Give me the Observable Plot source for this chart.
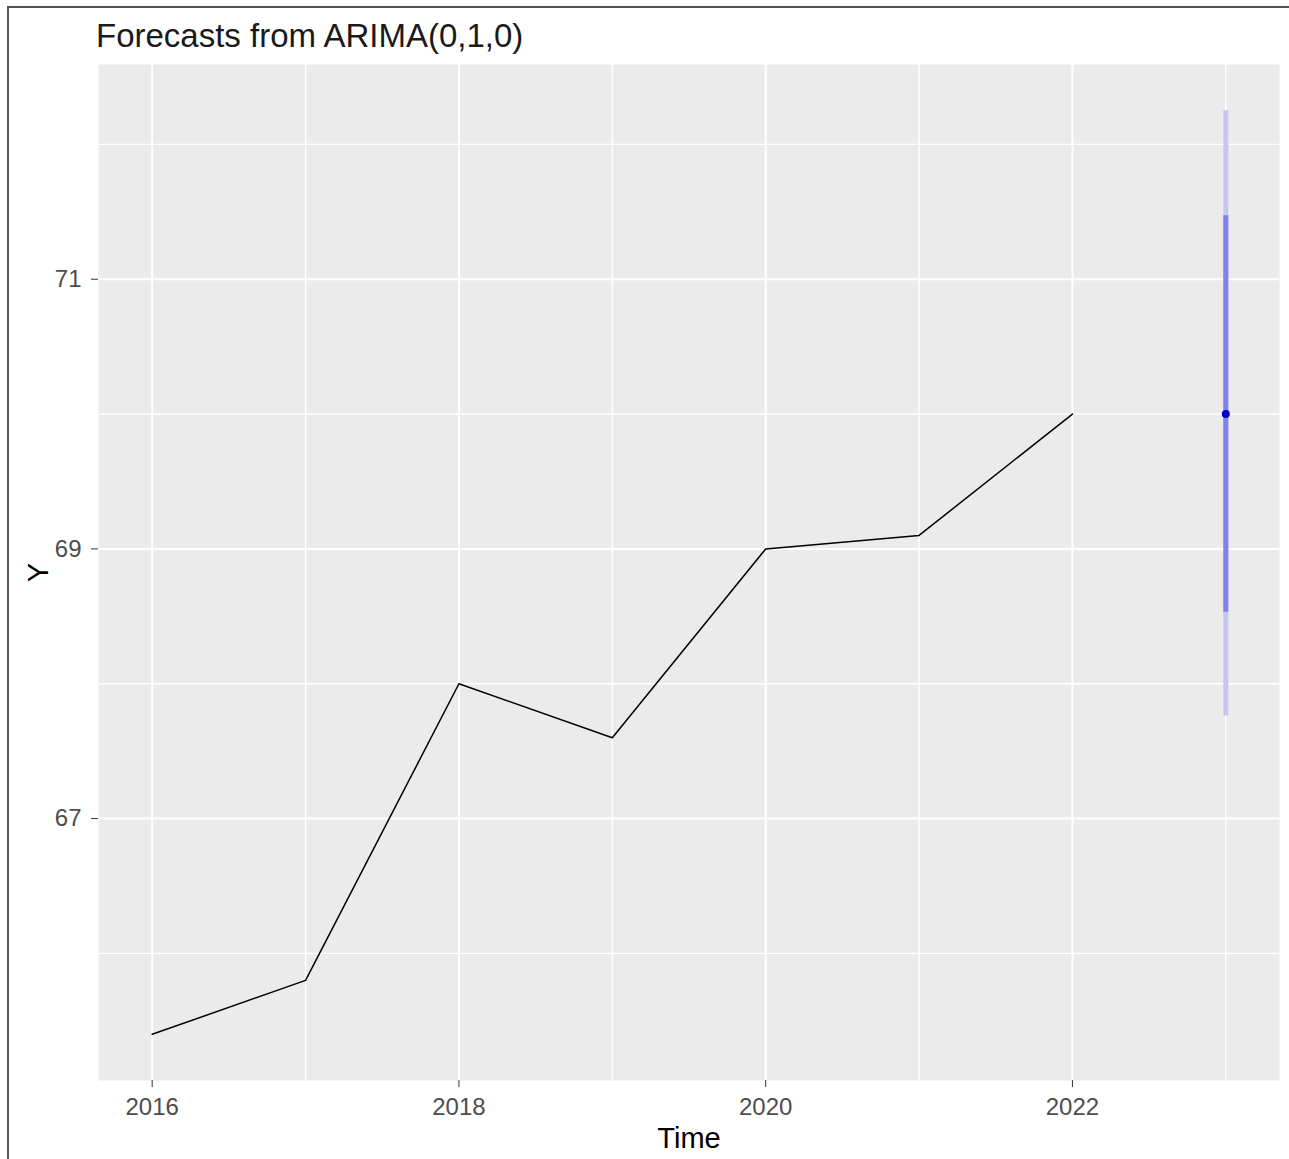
<!DOCTYPE html>
<html>
<head>
<meta charset="utf-8">
<script src="https://cdn.jsdelivr.net/npm/d3@7"></script>
<script src="https://cdn.jsdelivr.net/npm/@observablehq/plot@0.6"></script>
<style>
  html, body { margin: 0; padding: 0; background: #ffffff; }
  #wrap { position: relative; width: 1289px; height: 1159px; overflow: hidden; font-family: "Liberation Sans", Arial, sans-serif; }
  #title { position: absolute; left: 96px; top: 20px; font-size: 33px; line-height: 32px; color: #1a1a1a; white-space: nowrap; }
  #chart { position: absolute; left: 0; top: 60px; }
  .bt { position: absolute; left: 7px; top: 6px; width: 1282px; height: 2px; background: #555; }
  .bl { position: absolute; left: 7px; top: 6px; width: 2px; height: 1153px; background: #555; }
</style>
</head>
<body>
<div id="wrap">
  <div class="bt"></div>
  <div class="bl"></div>
  <div id="title">Forecasts from ARIMA(0,1,0)</div>
  <div id="chart"></div>
</div>
<script>
// Observed series
const years = [2016, 2017, 2018, 2019, 2020, 2021, 2022];
const values = [65.40, 65.80, 68.00, 67.60, 69.00, 69.10, 70.00];

// Forecast
const fcYears = [2023];
const fcMean = [70.00];
const fcLo80 = [68.53];
const fcHi80 = [71.47];
const fcLo95 = [67.76];
const fcHi95 = [72.25];

// Ticks / grid
const xMajor = [2016, 2018, 2020, 2022];
const xMinor = [2017, 2019, 2021, 2023];
const yMajor = [67, 69, 71];
const yMinor = [66, 68, 70, 72];

const series = years.map((t, i) => ({t, y: values[i]}));
const fc = fcYears.map((t, i) => ({t, mean: fcMean[i], lo80: fcLo80[i], hi80: fcHi80[i], lo95: fcLo95[i], hi95: fcHi95[i]}));

// ggplot-style 5% expansion
const allX = years.concat(fcYears);
const allY = values.concat(fcMean, fcLo95, fcHi95);
const xMin = d3.min(allX), xMax = d3.max(allX), xPad = 0.05 * (xMax - xMin);
const yMin = d3.min(allY), yMax = d3.max(allY), yPad = 0.05 * (yMax - yMin);

const font = "Liberation Sans, Arial, sans-serif";

const chart = Plot.plot({
  width: 1289,
  height: 1099,
  marginTop: 4,
  marginBottom: 79,
  marginLeft: 98,
  marginRight: 10,
  style: { fontFamily: font, color: "#333333", background: "transparent" },
  x: { domain: [xMin - xPad, xMax + xPad] },
  y: { domain: [yMin - yPad, yMax + yPad] },
  marks: [
    Plot.frame({ fill: "#EBEBEB", stroke: null }),
    Plot.gridX(xMinor, { stroke: "#ffffff", strokeOpacity: 1, strokeWidth: 1.4 }),
    Plot.gridY(yMinor, { stroke: "#ffffff", strokeOpacity: 1, strokeWidth: 1.4 }),
    Plot.gridX(xMajor, { stroke: "#ffffff", strokeOpacity: 1, strokeWidth: 2 }),
    Plot.gridY(yMajor, { stroke: "#ffffff", strokeOpacity: 1, strokeWidth: 2 }),
    Plot.axisX({ ticks: xMajor, tickSize: 7, tickPadding: 10, fontSize: 24, fill: "#4d4d4d", tickFormat: d3.format("d"), label: null }),
    Plot.axisX({ ticks: [], tickSize: 0, label: "Time", labelAnchor: "center", labelOffset: 67, labelArrow: "none", fontSize: 29, fill: "#000000" }),
    Plot.axisY({ ticks: yMajor, tickSize: 7, tickPadding: 10, fontSize: 24, fill: "#4d4d4d", tickFormat: d3.format("d"), label: null }),
    Plot.axisY({ ticks: [], tickSize: 0, label: "Y", labelAnchor: "center", labelOffset: 71, labelArrow: "none", fontSize: 29, fill: "#000000" }),
    Plot.line(series, { x: "t", y: "y", stroke: "#000000", strokeWidth: 1.5 }),
    Plot.ruleX(fc, { x: "t", y1: "lo95", y2: "hi95", stroke: "#c6c6f1", strokeWidth: 5 }),
    Plot.ruleX(fc, { x: "t", y1: "lo80", y2: "hi80", stroke: "#8080ef", strokeWidth: 5 }),
    Plot.dot(fc, { x: "t", y: "mean", r: 4, fill: "#0000cc", stroke: null })
  ]
});
document.getElementById("chart").appendChild(chart);
</script>
</body>
</html>
